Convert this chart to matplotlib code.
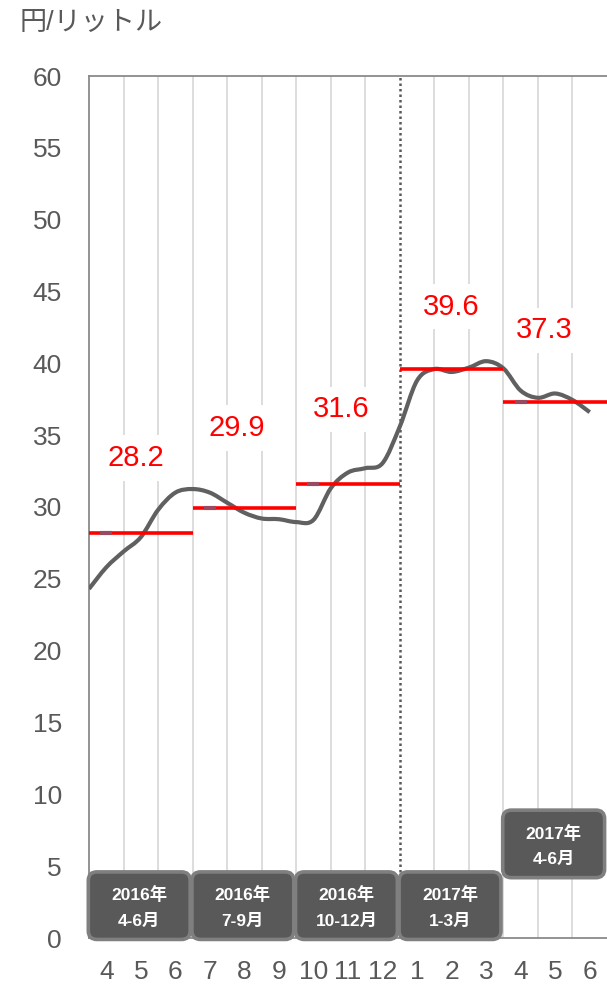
import numpy as np
import matplotlib
matplotlib.use('Agg')
import matplotlib.pyplot as plt
from matplotlib.patches import FancyBboxPatch, PathPatch
from matplotlib.path import Path

plt.rcParams['font.family'] = ['Liberation Sans', 'Noto Sans CJK JP', 'DejaVu Sans']

# month tick labels (2016/4 - 2017/6)
months = ['4', '5', '6', '7', '8', '9', '10', '11', '12', '1', '2', '3', '4', '5', '6']

# price, two readings per month (円/リットル)
price = [24.3, 25.8, 26.9, 27.9, 29.8, 31.0, 31.25, 31.0, 30.3, 29.6,
         29.2, 29.15, 28.95, 29.1, 31.3, 32.4, 32.7, 33.05, 35.6, 38.8,
         39.6, 39.4, 39.7, 40.15, 39.65, 38.1, 37.6, 37.9, 37.45, 36.6]

# quarterly averages
q_avg = [28.2, 29.9, 31.6, 39.6, 37.3]
q_year = ['2016年', '2016年', '2016年', '2017年', '2017年']
q_range = ['4-6月', '7-9月', '10-12月', '1-3月', '4-6月']

gray = '#595959'


def smooth_path(x, y, t=1 / 6):
    # bezier curve through the points (like a spreadsheet "smoothed line")
    pts = np.column_stack([x, y])
    verts = [pts[0]]
    codes = [Path.MOVETO]
    n = len(pts)
    for i in range(n - 1):
        p0 = pts[max(i - 1, 0)]
        p1 = pts[i]
        p2 = pts[i + 1]
        p3 = pts[min(i + 2, n - 1)]
        verts += [p1 + (p2 - p0) * t, p2 - (p3 - p1) * t, p2]
        codes += [Path.CURVE4] * 3
    return Path(verts, codes)


fig = plt.figure(figsize=(6.07, 9.84), dpi=100)
ax = fig.add_axes([89 / 607, 1 - 938 / 984, 1 - 89 / 607, (938 - 76) / 984])

ax.set_xlim(-0.5, 14.5)
ax.set_ylim(0, 60)

# vertical grid at month boundaries
for b in np.arange(0.5, 14.5, 1.0):
    if b == 8.5:
        continue
    ax.axvline(b, color='#d3d3d3', lw=1.1, zorder=0)
ax.axvline(8.5, color=gray, lw=1.8, ls=(0, (1, 1.2)), zorder=1)

# price line
xp = -0.5 + 0.5 * np.arange(len(price))
ax.add_patch(PathPatch(smooth_path(xp, np.array(price)), fc='none',
                       ec='#606060', lw=3.0, joinstyle='round',
                       capstyle='butt', zorder=3))

# quarter averages
label_dx = [0.85, 0.79, 0.79, 0.98, 0.68]
label_dy = [5.2, 5.6, 5.2, 4.35, 5.0]
for i, v in enumerate(q_avg):
    x0 = -0.5 + 3 * i
    ax.plot([x0, x0 + 3], [v, v], color='#ff0000', lw=2.6, zorder=4,
            solid_capstyle='butt')
    if i != 3:
        ax.plot([x0 + 0.5], [v], marker='_', ms=8, mew=3.0,
                color='#9a4a60', zorder=5)
    ax.text(x0 + 0.5 + label_dx[i], v + label_dy[i], f'{v:.1f}',
            color='#ff0000', fontsize=21, ha='center', va='center', zorder=6,
            bbox=dict(boxstyle='square,pad=0.3', fc='white', ec='none'))

# quarter boxes
box_y = [-0.1, -0.1, -0.1, -0.1, 4.2]
for i in range(5):
    x0 = -0.5 + 3 * i - 0.02
    y0 = box_y[i]
    w, h = 2.95, 4.7
    p = FancyBboxPatch((x0, y0), w, h,
                       boxstyle='round,pad=0,rounding_size=0.25',
                       mutation_aspect=2.4, fc=gray, ec='#7f7f7f', lw=2.6,
                       zorder=7, clip_on=False)
    ax.add_patch(p)
    cx = x0 + w / 2
    ax.text(cx, y0 + h * 0.66, q_year[i], color='white', fontsize=12.5,
            fontweight='bold', ha='center', va='center', zorder=8, clip_on=False)
    ax.text(cx, y0 + h * 0.27, q_range[i], color='white', fontsize=12.5,
            fontweight='bold', ha='center', va='center', zorder=8, clip_on=False)

ax.set_xticks(np.arange(15))
ax.set_xticklabels(months)
ax.set_yticks(np.arange(0, 61, 5))
ax.tick_params(axis='both', length=0, labelsize=19, labelcolor=gray)
ax.tick_params(axis='y', pad=19.5)
ax.tick_params(axis='x', pad=16)

for s in ['left', 'bottom', 'top']:
    ax.spines[s].set_color('#8a8a8a')
    ax.spines[s].set_linewidth(1.3)
ax.spines['right'].set_visible(False)

fig.text(20 / 607, 1 - 23 / 984, '円/リットル', fontsize=19.5, color=gray,
         ha='left', va='center')

fig.savefig('out.png', dpi=100)
